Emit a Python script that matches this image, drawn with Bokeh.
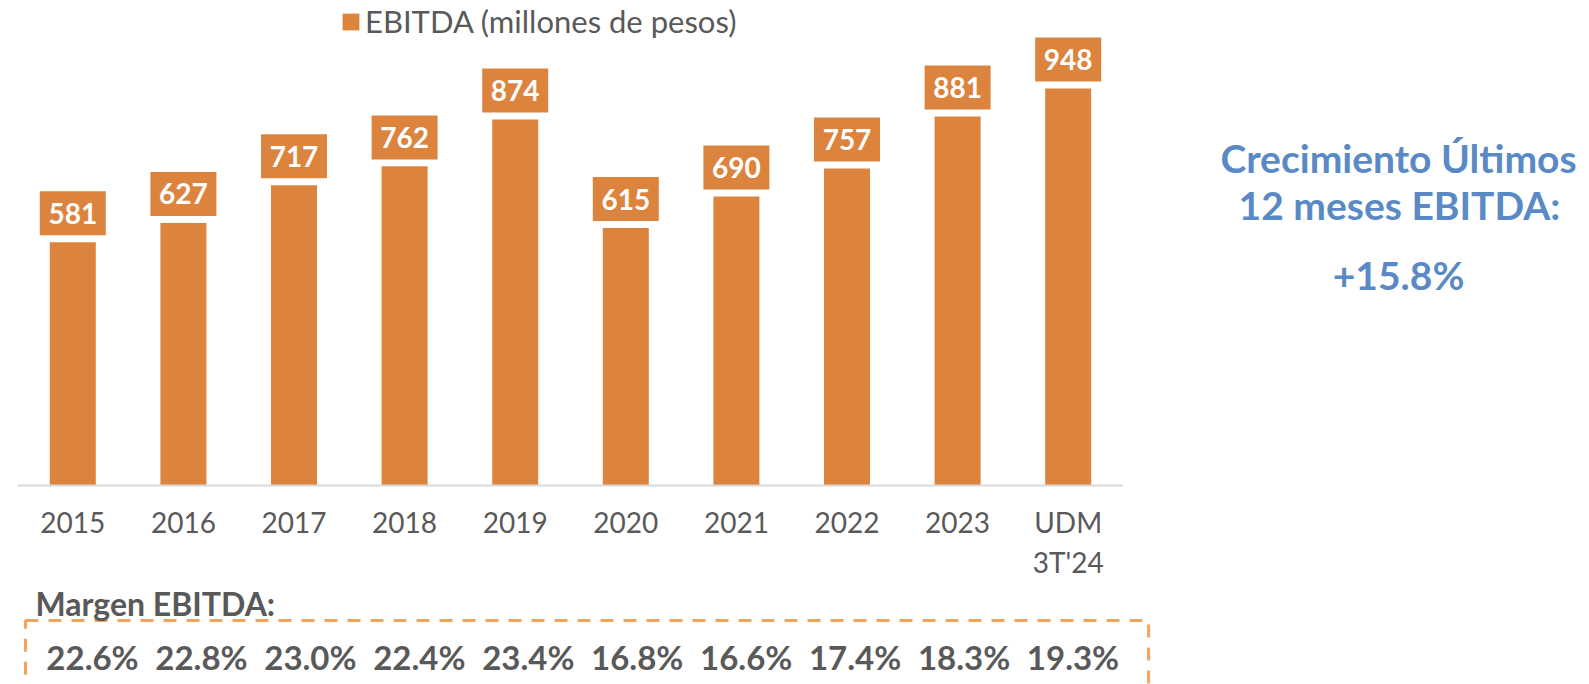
from bokeh.plotting import figure
from bokeh.models import Range1d, FactorRange, ColumnDataSource, Label
from bokeh.layouts import row, column
from bokeh.embed import file_html
from bokeh.resources import INLINE
from bokeh.core.properties import value

# ---------------- data ----------------
categories = ["2015", "2016", "2017", "2018", "2019", "2020", "2021", "2022", "2023", "UDM\n3T'24"]
ebitda = [581, 627, 717, 762, 874, 615, 690, 757, 881, 948]
margen = [22.6, 22.8, 23.0, 22.4, 23.4, 16.8, 16.6, 17.4, 18.3, 19.3]
series_name = "EBITDA (millones de pesos)"
margen_title = "Margen EBITDA:"
growth_lines = ["Crecimiento Últimos", "12 meses EBITDA:"]
growth = 15.8

# ---------------- styles ----------------
ORANGE = "#DC843E"
DASH_ORANGE = "#F2A35E"
GREY = "#595959"
BLUE = "#5A8AC6"
FONT = "Lato"

# ---------------- main bar chart ----------------
label_offset = 69  # data units above bar top for value boxes
src = ColumnDataSource(dict(
    cat=categories,
    val=ebitda,
    label_y=[v + label_offset for v in ebitda],
    txt=[str(v) for v in ebitda],
))

pA = figure(x_range=FactorRange(*categories), y_range=Range1d(0, 1158),
            width=1123, height=585, output_backend="svg", toolbar_location=None,
            y_axis_location=None, min_border_left=17, min_border_right=0,
            min_border_top=0, min_border_bottom=100)
pA.vbar(x="cat", top="val", width=0.416, source=src, fill_color=ORANGE,
        line_color=None, legend_label=series_name)
pA.rect(x="cat", y="label_y", width=66, height=44, width_units="screen",
        height_units="screen", source=src, fill_color=ORANGE, line_color=None)
pA.text(x="cat", y="label_y", text="txt", source=src, text_color="white",
        text_font=value(FONT), text_font_style="bold", text_font_size="28px",
        text_align="center", text_baseline="middle")

pA.xgrid.visible = False
pA.ygrid.visible = False
pA.outline_line_color = None
ax = pA.xaxis[0]
ax.axis_line_color = "#D9D9D9"
ax.axis_line_width = 2
ax.major_tick_line_color = None
ax.minor_tick_line_color = None
ax.major_tick_out = 0
ax.major_tick_in = 0
ax.major_label_text_font = FONT
ax.major_label_text_font_size = "28px"
ax.major_label_text_color = GREY
ax.major_label_standoff = 19

lg = pA.legend[0]
lg.location = (323, 445)
lg.padding = 0
lg.margin = 0
lg.spacing = 0
lg.border_line_color = None
lg.background_fill_alpha = 0
lg.glyph_width = 21
lg.glyph_height = 21
lg.label_standoff = 4
lg.label_text_font = FONT
lg.label_text_font_size = "31px"
lg.label_text_color = GREY

# ---------------- margin row ----------------
idx = list(range(len(categories)))
msrc = ColumnDataSource(dict(x=idx, txt=[f"{m:.1f}%" for m in margen]))
pB = figure(x_range=Range1d(-0.6885, 9.849), y_range=Range1d(684, 585),
            width=1165, height=99, output_backend="svg", toolbar_location=None,
            x_axis_location=None, y_axis_location=None, min_border=0)
pB.xgrid.visible = False
pB.ygrid.visible = False
pB.outline_line_color = None
pB.quad(left=-0.615, right=9.694, top=620, bottom=720, fill_color=None,
        line_color=DASH_ORANGE, line_width=3, line_dash="13 10")
pB.text(x="x", y=656.5, text="txt", source=msrc, text_color=GREY,
        text_font=value(FONT), text_font_style="bold", text_font_size="33px",
        text_align="center", text_baseline="middle")
pB.add_layout(Label(x=-0.523, y=603, text=margen_title, text_color=GREY,
                    text_font=FONT, text_font_style="bold", text_font_size="32px",
                    text_align="left", text_baseline="middle"))

# ---------------- growth note ----------------
pC = figure(x_range=Range1d(1165, 1589), y_range=Range1d(684, 0), width=424, height=684,
            output_backend="svg", toolbar_location=None,
            x_axis_location=None, y_axis_location=None, min_border=0)
pC.xgrid.visible = False
pC.ygrid.visible = False
pC.outline_line_color = None
gsrc = ColumnDataSource(dict(
    x=[1398, 1399, 1398],
    y=[157.5, 204.5, 274],
    t=growth_lines + [f"+{growth:.1f}%"],
))
pC.text(x="x", y="y", text="t", source=gsrc, text_color=BLUE,
        text_font=value(FONT), text_font_style="bold", text_font_size="39px",
        text_align="center", text_baseline="middle")

layout = row(column(pA, pB), pC)
open("out.html", "w").write(file_html(layout, INLINE))
